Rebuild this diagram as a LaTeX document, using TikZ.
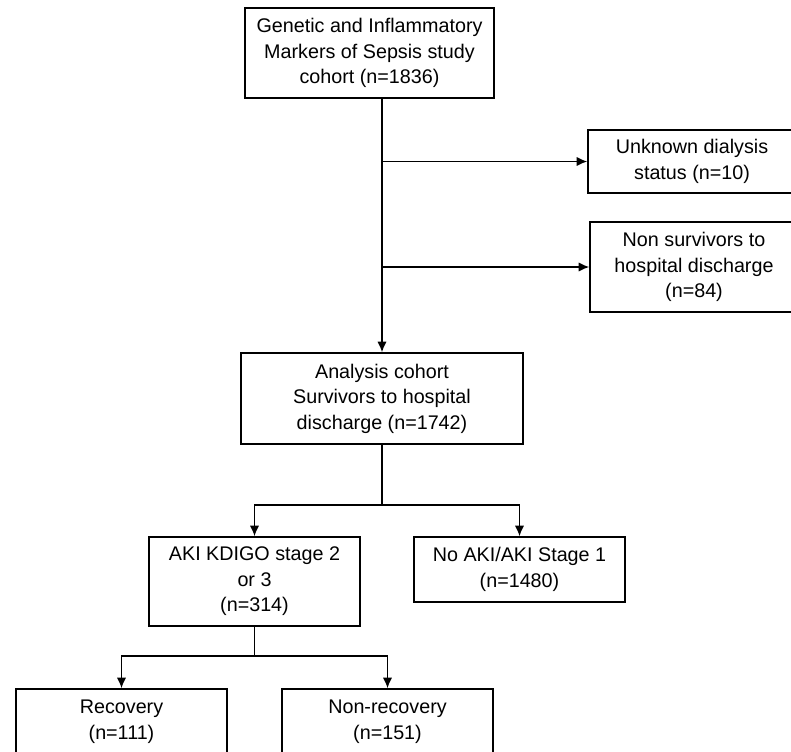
\documentclass[tikz,border=0pt]{standalone}
\usepackage{fontspec}
\setmainfont{Liberation Sans}
\usetikzlibrary{arrows.meta}

\tikzset{
	box/.style = {draw, line width=1.1pt, align=center, inner sep=0pt,
		font=\fontsize{14.8}{19.2}\selectfont},
	arr/.style = {-{Latex[length=8pt,width=7pt]}, line width=1.1pt},
}

\begin{document}
\begin{tikzpicture}[x=0.75pt,y=-0.75pt]
	\useasboundingbox (0,0) rectangle (791,751);
	\clip (0,0) rectangle (791,751);

	\node[box,minimum width=186.75pt,minimum height=67.5pt] (cohort) at (369.5,53)
		{Genetic and Inflammatory\\Markers of Sepsis study\\cohort (n=1836)};
	\node[box,minimum width=156pt,minimum height=47.25pt] (unknown) at (692,161.5)
		{Unknown dialysis\\status (n=10)};
	\node[box,minimum width=156pt,minimum height=67.5pt] (nonsurv) at (694,267)
		{Non survivors to\\hospital discharge\\(n=84)};
	\node[box,minimum width=211.5pt,minimum height=68.25pt] (analysis) at (382,398.5)
		{Analysis cohort\\Survivors to hospital\\discharge (n=1742)};
	\node[box,minimum width=158.25pt,minimum height=66.75pt] (aki) at (254.5,581.5)
		{AKI KDIGO stage 2\\or 3\\(n=314)};
	\node[box,minimum width=158.25pt,minimum height=48.75pt] (noaki) at (519.5,569.5)
		{No AKI/AKI Stage 1\\(n=1480)};
	\node[box,minimum width=158.25pt,minimum height=48.75pt] (recovery) at (121.5,721.5)
		{Recovery\\(n=111)};
	\node[box,minimum width=158.25pt,minimum height=48.75pt] (nonrec) at (387.5,721.5)
		{Non-recovery\\(n=151)};

	% exclusions
	\draw [arr] (cohort.south -| analysis.north) -- (analysis.north);
	\draw [arr] (analysis.north |- unknown.west) -- (unknown.west);
	\draw [arr] (analysis.north |- nonsurv.west) -- (nonsurv.west);

	% split by AKI
	\coordinate (split1) at (382,505);
	\draw [line width=1.1pt] (analysis.south) -- (split1);
	\draw [arr] (split1) -| (aki.north);
	\draw [arr] (split1) -| (noaki.north);

	% recovery
	\coordinate (split2) at (254.5,656);
	\draw [line width=1.1pt] (aki.south) -- (split2);
	\draw [arr] (split2) -| (recovery.north);
	\draw [arr] (split2) -| (nonrec.north);
\end{tikzpicture}
\end{document}
